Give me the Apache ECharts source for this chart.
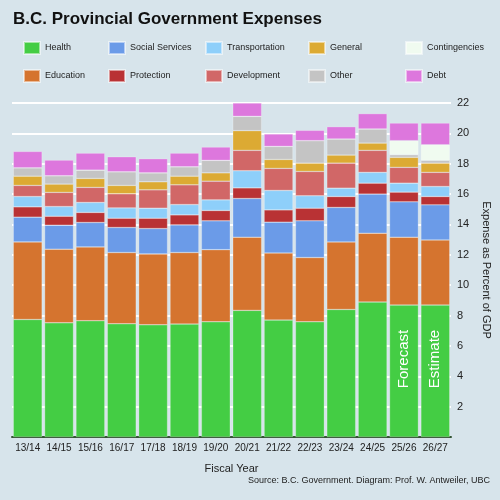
<!DOCTYPE html>
<html>
<head>
<meta charset="utf-8">
<script src="https://cdn.jsdelivr.net/npm/echarts@6/dist/echarts.min.js"></script>
<style>html,body{margin:0;padding:0;background:#d7e4eb;}#chart{width:500px;height:500px;}</style>
</head>
<body>
<div id="chart"></div>
<script>
var years = ['13/14','14/15','15/16','16/17','17/18','18/19','19/20','20/21','21/22','22/23','23/24','24/25','25/26','26/27'];
// percent of GDP, per category (stack order bottom to top)
var health = [7.74,7.52,7.66,7.46,7.39,7.44,7.59,8.34,7.70,7.59,8.40,8.89,8.69,8.69];
var education = [5.11,4.85,4.86,4.69,4.67,4.71,4.75,4.82,4.42,4.23,4.45,4.53,4.47,4.29];
var social = [1.63,1.58,1.61,1.65,1.67,1.82,1.90,2.55,2.03,2.42,2.27,2.58,2.33,2.31];
var protection = [0.68,0.59,0.66,0.61,0.68,0.66,0.68,0.70,0.81,0.83,0.72,0.72,0.64,0.55];
var transportation = [0.68,0.64,0.66,0.68,0.66,0.68,0.70,1.13,1.28,0.82,0.55,0.71,0.59,0.66];
var development = [0.73,0.93,0.99,0.93,1.21,1.30,1.23,1.34,1.45,1.60,1.65,1.45,1.04,0.93];
var general = [0.61,0.55,0.59,0.55,0.53,0.57,0.55,1.30,0.59,0.55,0.53,0.48,0.66,0.61];
var other = [0.55,0.55,0.55,0.90,0.59,0.62,0.82,0.94,0.86,1.48,1.06,0.93,0.17,0.18];
var contingencies = [0,0,0,0,0,0,0,0,0,0,0,0,0.93,1.03];
var debt = [1.08,1.03,1.12,0.99,0.93,0.90,0.88,0.88,0.82,0.68,0.81,1.01,1.16,1.43];
var yTicks = [2,4,6,8,10,12,14,16,18,20,22];

var names = ['Health','Education','Social Services','Protection','Transportation','Development','General','Other','Contingencies','Debt'];
var values = [health,education,social,protection,transportation,development,general,other,contingencies,debt];
var colors = ['#44cd44','#d5742f','#6b9be8','#b93234','#8ecffa','#d16767','#dcaa33','#c4c4c4','#f0fbf0','#dd77dd'];

var series = names.map(function (n, i) {
	var data = values[i].slice();
	if (n == 'Health') {
		data = data.map(function (v, j) {
			var txt = j == 12 ? 'Forecast' : (j == 13 ? 'Estimate' : null);
			if (!txt) return v;
			return {
				value: v,
				label: {show: true, formatter: txt, rotate: 90, position: 'inside', offset: [12, 0], color: '#fff', fontSize: 15, fontFamily: 'Liberation Sans Narrow, Liberation Sans'}
			};
		});
	}
	return {
		name: n, type: 'bar', stack: 'all', data: data, barCategoryGap: '8%',
		itemStyle: {color: colors[i], borderColor: 'rgba(255,255,255,0.5)', borderWidth: 0.5}
	};
});

// legend laid out as 5 columns of 2 items (column-wise order)
var colLeft = [18, 103, 200, 303, 400];
var legends = colLeft.map(function (x, c) {
	return {
		data: [names[c * 2], names[c * 2 + 1]], orient: 'vertical', left: x, top: 36,
		itemWidth: 16, itemHeight: 12, itemGap: 14, icon: 'rect',
		textStyle: {fontSize: 9, color: '#222', fontFamily: 'Liberation Sans'}
	};
});

var chart = echarts.init(document.getElementById('chart'));
chart.setOption({
	backgroundColor: '#d7e4eb',
	animation: false,
	title: {text: 'B.C. Provincial Government Expenses', left: 8, top: 6, textStyle: {fontSize: 17, fontWeight: 'bold', color: '#111', fontFamily: 'Liberation Sans'}},
	legend: legends,
	grid: {left: 12, right: 42, top: 103, bottom: 63},
	xAxis: {
		type: 'category', data: years, name: 'Fiscal Year', nameLocation: 'middle', nameGap: 26,
		nameTextStyle: {fontSize: 11, color: '#222', fontFamily: 'Liberation Sans'},
		axisLine: {lineStyle: {color: '#335533', width: 2}}, axisTick: {show: false},
		axisLabel: {fontSize: 10, color: '#222', margin: 6, interval: 0, fontFamily: 'Liberation Sans'}
	},
	yAxis: {
		type: 'value', position: 'right', min: 0, max: 22, interval: 2,
		name: 'Expense as Percent of GDP', nameLocation: 'middle', nameRotate: -90, nameGap: 30,
		nameTextStyle: {fontSize: 11, color: '#222', fontFamily: 'Liberation Sans'},
		axisLine: {show: false}, axisTick: {show: false},
		splitLine: {lineStyle: {color: '#ffffff', width: 2}},
		axisLabel: {fontSize: 11, color: '#222', margin: 6, fontFamily: 'Liberation Sans',
			formatter: function (v) { return yTicks.indexOf(v) >= 0 ? v : ''; }}
	},
	graphic: [{type: 'text', right: 10, top: 476, style: {text: 'Source: B.C. Government. Diagram: Prof. W. Antweiler, UBC', fontSize: 9, fill: '#222', fontFamily: 'Liberation Sans'}}],
	series: series
});
</script>
</body>
</html>
